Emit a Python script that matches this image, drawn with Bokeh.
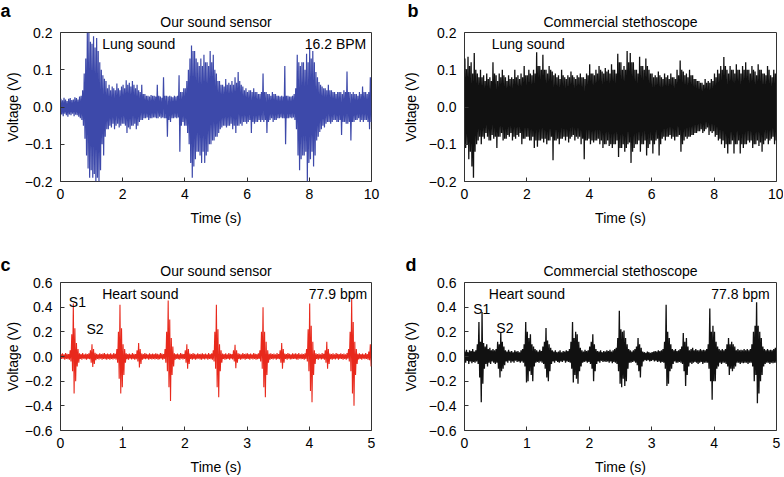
from bokeh.plotting import figure
from bokeh.layouts import row, column
from bokeh.models import Range1d, FixedTicker, CustomJSTickFormatter, Label, Title
from bokeh.embed import file_html
from bokeh.resources import INLINE

# ---------------- data (envelope per time bin) ----------------
# (a) our sensor, lung sound: 0.05 s bins, 0-10 s
lung_sensor_hi = [0.022, 0.018, 0.025, 0.02, 0.016, 0.022, 0.024, 0.019, 0.02, 0.026,
                  0.024, 0.02, 0.028, 0.03, 0.045, 0.09, 0.13, 0.2, 0.2, 0.175,
                  0.17, 0.19, 0.16, 0.185, 0.15, 0.12, 0.1, 0.085, 0.076, 0.07,
                  0.05, 0.06, 0.045, 0.055, 0.05, 0.045, 0.063, 0.05, 0.045, 0.055,
                  0.06, 0.05, 0.072, 0.06, 0.065, 0.055, 0.07, 0.06, 0.05, 0.06,
                  0.045, 0.04, 0.06, 0.035, 0.035, 0.03, 0.03, 0.028, 0.032, 0.03,
                  0.03, 0.028, 0.06, 0.03, 0.028, 0.025, 0.08, 0.03, 0.03, 0.028,
                  0.03, 0.028, 0.026, 0.03, 0.028, 0.03, 0.085, 0.04, 0.04, 0.05,
                  0.05, 0.07, 0.1, 0.13, 0.165, 0.15, 0.15, 0.13, 0.12, 0.11,
                  0.13, 0.11, 0.14, 0.12, 0.12, 0.11, 0.15, 0.12, 0.14, 0.1,
                  0.09, 0.07, 0.07, 0.06, 0.06, 0.055, 0.075, 0.06, 0.065, 0.06,
                  0.07, 0.06, 0.08, 0.065, 0.094, 0.07, 0.06, 0.055, 0.045, 0.05,
                  0.04, 0.045, 0.045, 0.04, 0.05, 0.04, 0.04, 0.035, 0.035, 0.04,
                  0.09, 0.04, 0.04, 0.035, 0.035, 0.03, 0.04, 0.035, 0.035, 0.03,
                  0.03, 0.028, 0.03, 0.028, 0.11, 0.03, 0.03, 0.028, 0.028, 0.03,
                  0.035, 0.05, 0.14, 0.12, 0.11, 0.12, 0.12, 0.1, 0.143, 0.12,
                  0.157, 0.13, 0.15, 0.12, 0.094, 0.08, 0.067, 0.06, 0.055, 0.05,
                  0.05, 0.045, 0.06, 0.045, 0.045, 0.04, 0.04, 0.035, 0.04, 0.04,
                  0.04, 0.035, 0.045, 0.04, 0.095, 0.04, 0.04, 0.035, 0.04, 0.035,
                  0.035, 0.03, 0.04, 0.035, 0.055, 0.04, 0.04, 0.035, 0.04, 0.08]
lung_sensor_lo = [-0.02, -0.025, -0.018, -0.022, -0.026, -0.02, -0.022, -0.018, -0.025, -0.021,
                  -0.022, -0.026, -0.03, -0.035, -0.05, -0.085, -0.13, -0.165, -0.19, -0.17,
                  -0.19, -0.18, -0.2, -0.19, -0.2, -0.17, -0.1, -0.13, -0.08, -0.06,
                  -0.06, -0.05, -0.055, -0.045, -0.06, -0.05, -0.045, -0.055, -0.05, -0.045,
                  -0.045, -0.05, -0.07, -0.055, -0.06, -0.05, -0.05, -0.045, -0.06, -0.05,
                  -0.04, -0.035, -0.035, -0.03, -0.03, -0.028, -0.035, -0.03, -0.03, -0.028,
                  -0.028, -0.03, -0.03, -0.026, -0.03, -0.028, -0.03, -0.03, -0.08, -0.035,
                  -0.04, -0.03, -0.03, -0.028, -0.03, -0.028, -0.12, -0.05, -0.04, -0.05,
                  -0.05, -0.07, -0.1, -0.15, -0.19, -0.16, -0.14, -0.12, -0.12, -0.13,
                  -0.15, -0.12, -0.15, -0.13, -0.12, -0.1, -0.1, -0.09, -0.09, -0.08,
                  -0.08, -0.07, -0.06, -0.055, -0.05, -0.05, -0.055, -0.05, -0.05, -0.045,
                  -0.06, -0.05, -0.07, -0.05, -0.05, -0.045, -0.05, -0.04, -0.04, -0.045,
                  -0.04, -0.035, -0.07, -0.04, -0.045, -0.04, -0.04, -0.035, -0.04, -0.035,
                  -0.04, -0.035, -0.07, -0.04, -0.035, -0.03, -0.04, -0.035, -0.035, -0.03,
                  -0.03, -0.028, -0.03, -0.03, -0.1, -0.03, -0.03, -0.028, -0.03, -0.028,
                  -0.035, -0.06, -0.13, -0.17, -0.14, -0.13, -0.13, -0.12, -0.2, -0.15,
                  -0.14, -0.12, -0.16, -0.13, -0.09, -0.08, -0.067, -0.06, -0.05, -0.055,
                  -0.045, -0.04, -0.04, -0.045, -0.04, -0.035, -0.035, -0.04, -0.04, -0.035,
                  -0.075, -0.04, -0.04, -0.045, -0.045, -0.04, -0.09, -0.04, -0.04, -0.035,
                  -0.035, -0.03, -0.04, -0.035, -0.04, -0.035, -0.035, -0.04, -0.06, -0.04]

# (b) commercial stethoscope, lung sound: 0.05 s bins, 0-10 s
lung_steth_hi = [0.13, 0.1, 0.135, 0.11, 0.12, 0.09, 0.145, 0.1, 0.09, 0.08,
                 0.1, 0.08, 0.085, 0.07, 0.09, 0.075, 0.08, 0.07, 0.12, 0.09,
                 0.085, 0.07, 0.09, 0.08, 0.1, 0.085, 0.08, 0.07, 0.085, 0.075,
                 0.08, 0.075, 0.1, 0.08, 0.085, 0.075, 0.09, 0.08, 0.11, 0.085,
                 0.085, 0.1, 0.09, 0.085, 0.1, 0.09, 0.147, 0.11, 0.11, 0.1,
                 0.14, 0.1, 0.1, 0.09, 0.11, 0.1, 0.095, 0.085, 0.09, 0.08,
                 0.085, 0.075, 0.1, 0.085, 0.08, 0.075, 0.085, 0.08, 0.095, 0.085,
                 0.08, 0.075, 0.085, 0.08, 0.09, 0.08, 0.08, 0.075, 0.09, 0.085,
                 0.115, 0.09, 0.09, 0.085, 0.1, 0.09, 0.11, 0.1, 0.095, 0.09,
                 0.105, 0.095, 0.1, 0.09, 0.115, 0.1, 0.1, 0.09, 0.143, 0.12,
                 0.12, 0.1, 0.11, 0.1, 0.15, 0.12, 0.145, 0.12, 0.12, 0.1,
                 0.1, 0.09, 0.135, 0.11, 0.11, 0.1, 0.13, 0.11, 0.1, 0.09,
                 0.09, 0.08, 0.085, 0.08, 0.095, 0.085, 0.08, 0.075, 0.09, 0.08,
                 0.085, 0.075, 0.09, 0.08, 0.08, 0.075, 0.1, 0.085, 0.125, 0.1,
                 0.095, 0.085, 0.09, 0.08, 0.1, 0.085, 0.085, 0.075, 0.075, 0.07,
                 0.07, 0.065, 0.065, 0.06, 0.075, 0.065, 0.07, 0.065, 0.075, 0.07,
                 0.09, 0.08, 0.1, 0.09, 0.11, 0.1, 0.134, 0.11, 0.1, 0.09,
                 0.11, 0.1, 0.1, 0.09, 0.115, 0.1, 0.1, 0.09, 0.11, 0.1,
                 0.12, 0.1, 0.1, 0.09, 0.11, 0.1, 0.095, 0.085, 0.115, 0.1,
                 0.1, 0.09, 0.09, 0.085, 0.11, 0.1, 0.085, 0.08, 0.1, 0.09]
lung_steth_lo = [-0.11, -0.1, -0.14, -0.12, -0.16, -0.19, -0.12, -0.1, -0.09, -0.08,
                 -0.1, -0.08, -0.085, -0.07, -0.08, -0.09, -0.09, -0.075, -0.085, -0.08,
                 -0.11, -0.08, -0.08, -0.07, -0.09, -0.085, -0.085, -0.075, -0.08, -0.07,
                 -0.09, -0.08, -0.085, -0.075, -0.08, -0.07, -0.1, -0.085, -0.085, -0.08,
                 -0.08, -0.09, -0.09, -0.08, -0.11, -0.09, -0.107, -0.09, -0.09, -0.085,
                 -0.095, -0.085, -0.1, -0.09, -0.09, -0.08, -0.143, -0.09, -0.09, -0.085,
                 -0.1, -0.085, -0.085, -0.08, -0.09, -0.08, -0.095, -0.085, -0.08, -0.075,
                 -0.09, -0.08, -0.085, -0.08, -0.1, -0.085, -0.14, -0.09, -0.09, -0.085,
                 -0.1, -0.09, -0.095, -0.09, -0.09, -0.085, -0.1, -0.09, -0.11, -0.1,
                 -0.1, -0.09, -0.105, -0.1, -0.11, -0.1, -0.1, -0.09, -0.134, -0.11,
                 -0.11, -0.1, -0.12, -0.11, -0.1, -0.095, -0.15, -0.12, -0.11, -0.1,
                 -0.1, -0.09, -0.12, -0.1, -0.1, -0.09, -0.13, -0.11, -0.1, -0.09,
                 -0.125, -0.1, -0.09, -0.085, -0.13, -0.1, -0.085, -0.08, -0.09, -0.08,
                 -0.08, -0.075, -0.085, -0.08, -0.09, -0.08, -0.08, -0.075, -0.12, -0.1,
                 -0.09, -0.08, -0.085, -0.08, -0.08, -0.075, -0.075, -0.07, -0.07, -0.065,
                 -0.065, -0.06, -0.07, -0.065, -0.06, -0.055, -0.075, -0.065, -0.07, -0.065,
                 -0.08, -0.075, -0.09, -0.085, -0.1, -0.09, -0.11, -0.1, -0.125, -0.1,
                 -0.1, -0.09, -0.125, -0.1, -0.1, -0.09, -0.125, -0.1, -0.11, -0.1,
                 -0.1, -0.09, -0.095, -0.09, -0.11, -0.1, -0.1, -0.09, -0.105, -0.095,
                 -0.12, -0.1, -0.09, -0.085, -0.1, -0.09, -0.085, -0.08, -0.1, -0.09]

# (c) our sensor, heart sound: 0.025 s bins, 0-5 s
heart_sensor_hi = [0.02, 0.025, 0.018, 0.028, 0.022, 0.02, 0.05, 0.18, 0.43, 0.23,
                   0.11, 0.06, 0.025, 0.02, 0.028, 0.018, 0.024, 0.02, 0.026, 0.05,
                   0.1, 0.06, 0.03, 0.022, 0.018, 0.026, 0.02, 0.024, 0.028, 0.02,
                   0.024, 0.02, 0.026, 0.018, 0.028, 0.022, 0.06, 0.2, 0.42, 0.23,
                   0.1, 0.06, 0.026, 0.02, 0.024, 0.018, 0.028, 0.022, 0.02, 0.05,
                   0.11, 0.06, 0.025, 0.02, 0.028, 0.022, 0.018, 0.026, 0.02, 0.024,
                   0.02, 0.026, 0.022, 0.018, 0.028, 0.024, 0.02, 0.06, 0.2, 0.455,
                   0.3, 0.15, 0.08, 0.026, 0.02, 0.024, 0.018, 0.028, 0.022, 0.02,
                   0.05, 0.1, 0.06, 0.024, 0.02, 0.028, 0.022, 0.018, 0.026, 0.02,
                   0.022, 0.026, 0.02, 0.024, 0.018, 0.028, 0.02, 0.025, 0.05, 0.2,
                   0.42, 0.22, 0.1, 0.05, 0.024, 0.02, 0.026, 0.018, 0.028, 0.022,
                   0.02, 0.05, 0.095, 0.05, 0.026, 0.022, 0.018, 0.028, 0.02, 0.024,
                   0.026, 0.02, 0.024, 0.018, 0.028, 0.022, 0.02, 0.025, 0.05, 0.2,
                   0.4, 0.2, 0.12, 0.05, 0.022, 0.026, 0.02, 0.024, 0.018, 0.028,
                   0.02, 0.05, 0.11, 0.06, 0.024, 0.02, 0.028, 0.022, 0.018, 0.026,
                   0.022, 0.026, 0.02, 0.028, 0.018, 0.024, 0.02, 0.026, 0.06, 0.22,
                   0.43, 0.25, 0.12, 0.05, 0.026, 0.02, 0.024, 0.018, 0.028, 0.022,
                   0.05, 0.12, 0.06, 0.024, 0.02, 0.026, 0.018, 0.028, 0.022, 0.02,
                   0.026, 0.02, 0.024, 0.018, 0.028, 0.06, 0.2, 0.47, 0.28, 0.12,
                   0.06, 0.022, 0.026, 0.02, 0.024, 0.018, 0.028, 0.02, 0.04, 0.1]
heart_sensor_lo = [-0.02, -0.018, -0.025, -0.02, -0.022, -0.026, -0.04, -0.12, -0.3, -0.2,
                   -0.08, -0.05, -0.02, -0.025, -0.018, -0.022, -0.026, -0.02, -0.022, -0.05,
                   -0.085, -0.06, -0.03, -0.02, -0.024, -0.018, -0.026, -0.02, -0.022, -0.025,
                   -0.02, -0.026, -0.02, -0.024, -0.018, -0.025, -0.05, -0.18, -0.3, -0.25,
                   -0.15, -0.05, -0.022, -0.026, -0.018, -0.024, -0.02, -0.026, -0.022, -0.04,
                   -0.09, -0.06, -0.026, -0.02, -0.022, -0.018, -0.025, -0.02, -0.024, -0.02,
                   -0.024, -0.02, -0.026, -0.022, -0.018, -0.025, -0.02, -0.05, -0.12, -0.25,
                   -0.36, -0.15, -0.08, -0.025, -0.02, -0.022, -0.026, -0.018, -0.024, -0.02,
                   -0.05, -0.1, -0.06, -0.02, -0.025, -0.02, -0.026, -0.022, -0.018, -0.024,
                   -0.026, -0.02, -0.024, -0.018, -0.025, -0.02, -0.022, -0.026, -0.04, -0.1,
                   -0.25, -0.33, -0.12, -0.05, -0.02, -0.026, -0.022, -0.02, -0.025, -0.018,
                   -0.024, -0.04, -0.095, -0.05, -0.02, -0.026, -0.022, -0.018, -0.025, -0.02,
                   -0.02, -0.025, -0.018, -0.024, -0.02, -0.026, -0.022, -0.02, -0.04, -0.1,
                   -0.25, -0.33, -0.15, -0.05, -0.025, -0.02, -0.024, -0.018, -0.026, -0.02,
                   -0.022, -0.05, -0.1, -0.05, -0.02, -0.026, -0.018, -0.024, -0.022, -0.02,
                   -0.02, -0.024, -0.026, -0.018, -0.022, -0.02, -0.025, -0.02, -0.04, -0.12,
                   -0.28, -0.37, -0.15, -0.06, -0.02, -0.025, -0.018, -0.024, -0.02, -0.026,
                   -0.05, -0.1, -0.06, -0.022, -0.026, -0.02, -0.024, -0.018, -0.025, -0.02,
                   -0.02, -0.025, -0.02, -0.026, -0.018, -0.04, -0.12, -0.3, -0.4, -0.15,
                   -0.06, -0.024, -0.02, -0.026, -0.018, -0.022, -0.02, -0.025, -0.03, -0.08]

# (d) commercial stethoscope, heart sound: 0.025 s bins, 0-5 s
heart_steth_hi = [0.04, 0.055, 0.035, 0.05, 0.045, 0.06, 0.04, 0.05, 0.1, 0.28,
                  0.12, 0.36, 0.11, 0.08, 0.1, 0.06, 0.07, 0.05, 0.06, 0.05,
                  0.06, 0.12, 0.1, 0.19, 0.12, 0.08, 0.05, 0.04, 0.055, 0.04,
                  0.045, 0.035, 0.05, 0.04, 0.045, 0.035, 0.05, 0.06, 0.1, 0.28,
                  0.2, 0.15, 0.18, 0.1, 0.08, 0.06, 0.05, 0.04, 0.055, 0.045,
                  0.08, 0.12, 0.23, 0.13, 0.1, 0.07, 0.05, 0.04, 0.05, 0.035,
                  0.04, 0.05, 0.035, 0.045, 0.04, 0.05, 0.045, 0.06, 0.12, 0.28,
                  0.15, 0.2, 0.18, 0.12, 0.07, 0.05, 0.04, 0.055, 0.045, 0.05,
                  0.08, 0.12, 0.18, 0.1, 0.06, 0.045, 0.04, 0.05, 0.035, 0.045,
                  0.04, 0.05, 0.045, 0.055, 0.04, 0.05, 0.06, 0.07, 0.15, 0.37,
                  0.22, 0.2, 0.21, 0.15, 0.1, 0.06, 0.05, 0.04, 0.05, 0.06,
                  0.08, 0.15, 0.1, 0.07, 0.04, 0.035, 0.03, 0.04, 0.035, 0.03,
                  0.035, 0.04, 0.045, 0.04, 0.05, 0.045, 0.05, 0.06, 0.12, 0.42,
                  0.2, 0.15, 0.1, 0.06, 0.05, 0.06, 0.045, 0.05, 0.06, 0.08,
                  0.19, 0.12, 0.15, 0.08, 0.05, 0.06, 0.07, 0.05, 0.06, 0.05,
                  0.05, 0.06, 0.05, 0.055, 0.05, 0.06, 0.1, 0.39, 0.2, 0.25,
                  0.2, 0.12, 0.08, 0.06, 0.05, 0.06, 0.05, 0.06, 0.1, 0.15,
                  0.1, 0.12, 0.1, 0.08, 0.05, 0.06, 0.05, 0.055, 0.05, 0.06,
                  0.05, 0.06, 0.05, 0.06, 0.1, 0.2, 0.25, 0.44, 0.25, 0.2,
                  0.15, 0.08, 0.06, 0.05, 0.06, 0.05, 0.055, 0.05, 0.06, 0.07]
heart_steth_lo = [-0.05, -0.035, -0.06, -0.04, -0.055, -0.045, -0.05, -0.04, -0.06, -0.17,
                  -0.37, -0.22, -0.1, -0.06, -0.08, -0.05, -0.06, -0.04, -0.05, -0.06,
                  -0.05, -0.1, -0.17, -0.12, -0.1, -0.07, -0.04, -0.05, -0.035, -0.05,
                  -0.04, -0.05, -0.035, -0.045, -0.04, -0.05, -0.04, -0.05, -0.08, -0.21,
                  -0.2, -0.12, -0.15, -0.2, -0.08, -0.05, -0.045, -0.05, -0.04, -0.05,
                  -0.06, -0.1, -0.17, -0.2, -0.12, -0.06, -0.04, -0.05, -0.035, -0.045,
                  -0.05, -0.04, -0.045, -0.035, -0.05, -0.04, -0.045, -0.05, -0.1, -0.21,
                  -0.15, -0.18, -0.22, -0.12, -0.08, -0.05, -0.045, -0.04, -0.05, -0.045,
                  -0.06, -0.1, -0.2, -0.12, -0.06, -0.04, -0.05, -0.035, -0.045, -0.04,
                  -0.045, -0.04, -0.05, -0.04, -0.055, -0.045, -0.05, -0.06, -0.12, -0.22,
                  -0.25, -0.18, -0.24, -0.2, -0.1, -0.05, -0.05, -0.045, -0.04, -0.05,
                  -0.07, -0.12, -0.17, -0.08, -0.04, -0.03, -0.035, -0.03, -0.04, -0.035,
                  -0.03, -0.04, -0.035, -0.045, -0.04, -0.05, -0.045, -0.05, -0.1, -0.24,
                  -0.22, -0.12, -0.1, -0.06, -0.04, -0.05, -0.05, -0.045, -0.05, -0.06,
                  -0.12, -0.24, -0.15, -0.08, -0.05, -0.06, -0.05, -0.045, -0.05, -0.06,
                  -0.05, -0.045, -0.06, -0.05, -0.05, -0.05, -0.1, -0.2, -0.35, -0.2,
                  -0.2, -0.1, -0.08, -0.05, -0.06, -0.05, -0.05, -0.06, -0.08, -0.15,
                  -0.1, -0.12, -0.1, -0.08, -0.05, -0.05, -0.06, -0.05, -0.055, -0.05,
                  -0.05, -0.06, -0.05, -0.05, -0.08, -0.2, -0.15, -0.38, -0.3, -0.2,
                  -0.15, -0.08, -0.06, -0.05, -0.05, -0.06, -0.05, -0.055, -0.05, -0.05]

lung_x_ticks = [0, 2, 4, 6, 8, 10]
lung_y_ticks = [-0.2, -0.1, 0.0, 0.1, 0.2]
heart_x_ticks = [0, 1, 2, 3, 4, 5]
heart_y_ticks = [-0.6, -0.4, -0.2, 0.0, 0.2, 0.4, 0.6]

FONT = "Liberation Sans"
BLUE = "#3d49aa"
RED = "#e8291c"
BLACK = "#111111"


def zigzag(hi, lo, dt):
    # each bin is traced as one up/down stroke between its envelope extremes
    xs, ys = [], []
    for i, (h, l) in enumerate(zip(hi, lo)):
        xs += [(i + 0.25) * dt, (i + 0.75) * dt]
        ys += [h, l]
    return xs, ys


def make_panel(letter, title, xmax, xticks, ymax, yticks, bl, fw, br, bt, fh, bb,
               title_standoff, letter_offset, letter_standoff,
               ylab_standoff, xlab_standoff):
    p = figure(width=bl + fw + br, height=bt + fh + bb,
               x_range=Range1d(0, xmax), y_range=Range1d(-ymax, ymax),
               output_backend="svg", toolbar_location=None,
               min_border_left=bl, min_border_right=br,
               min_border_top=bt, min_border_bottom=bb,
               title=letter, background_fill_color="white",
               border_fill_color="white")
    # outer title: panel letter
    p.title.text_font = FONT
    p.title.text_font_size = "18px"
    p.title.text_font_style = "bold"
    p.title.text_color = "black"
    p.title.align = "left"
    p.title.offset = letter_offset
    p.title.standoff = letter_standoff
    # inner title: panel caption
    cap = Title(text=title, align="center", text_font=FONT, text_font_size="14px",
                text_font_style="normal", text_color="black", standoff=title_standoff)
    p.add_layout(cap, "above")

    p.outline_line_color = "#333333"
    p.outline_line_width = 1
    p.xgrid.visible = False
    p.ygrid.visible = False
    p.xaxis.ticker = FixedTicker(ticks=xticks)
    p.yaxis.ticker = FixedTicker(ticks=yticks)
    p.yaxis.formatter = CustomJSTickFormatter(
        code="return (tick < -1e-9 ? '\\u2212' : '') + Math.abs(tick).toFixed(1);")
    p.xaxis.formatter = CustomJSTickFormatter(code="return tick.toFixed(0);")
    p.xaxis.axis_label = "Time (s)"
    p.yaxis.axis_label = "Voltage (V)"
    for ax in (p.xaxis, p.yaxis):
        ax.axis_line_color = None
        ax.major_tick_in = 4
        ax.major_tick_out = 0
        ax.major_tick_line_color = "#333333"
        ax.minor_tick_line_color = None
        ax.major_label_text_font = FONT
        ax.major_label_text_font_size = "14px"
        ax.major_label_text_color = "black"
        ax.axis_label_text_font = FONT
        ax.axis_label_text_font_size = "14px"
        ax.axis_label_text_font_style = "normal"
        ax.axis_label_text_color = "black"
    p.xaxis.major_label_standoff = 7
    p.xaxis.axis_label_standoff = xlab_standoff
    p.yaxis.major_label_standoff = 8
    p.yaxis.axis_label_standoff = ylab_standoff
    return p


def add_text(p, x, y, text, align="left"):
    p.add_layout(Label(x=x, y=y, text=text, text_font=FONT, text_font_size="14px",
                       text_align=align, text_baseline="middle", text_color="black"))


# ---------------- panel a ----------------
pa = make_panel("a", "Our sound sensor", 10, lung_x_ticks, 0.2, lung_y_ticks,
                60, 311, 19, 32, 149, 59, 5, -60, -23, 1, 8)
xs, ys = zigzag(lung_sensor_hi, lung_sensor_lo, 0.05)
pa.line(xs, ys, line_color=BLUE, line_width=1.2)
add_text(pa, 1.34, 0.17, "Lung sound")
add_text(pa, 9.83, 0.17, "16.2 BPM", align="right")

# ---------------- panel b ----------------
pb = make_panel("b", "Commercial stethoscope", 10, lung_x_ticks, 0.2, lung_y_ticks,
                74, 312, 7, 32, 149, 59, 5, -57, -23, 7, 8)
xs, ys = zigzag(lung_steth_hi, lung_steth_lo, 0.05)
pb.line(xs, ys, line_color=BLACK, line_width=1.3)
add_text(pb, 0.87, 0.17, "Lung sound")

# ---------------- panel c ----------------
pc = make_panel("c", "Our sound sensor", 5, heart_x_ticks, 0.6, heart_y_ticks,
                60, 311, 19, 42, 148, 47, 8, -60, -36, 1, 8)
xs, ys = zigzag(heart_sensor_hi, heart_sensor_lo, 0.025)
pc.line(xs, ys, line_color=RED, line_width=1.1)
add_text(pc, 0.67, 0.507, "Heart sound")
add_text(pc, 0.134, 0.445, "S1")
add_text(pc, 0.418, 0.227, "S2")
add_text(pc, 4.93, 0.51, "77.9 bpm", align="right")

# ---------------- panel d ----------------
pd_ = make_panel("d", "Commercial stethoscope", 5, heart_x_ticks, 0.6, heart_y_ticks,
                 74, 312, 7, 42, 148, 47, 8, -59, -36, 7, 8)
xs, ys = zigzag(heart_steth_hi, heart_steth_lo, 0.025)
pd_.line(xs, ys, line_color=BLACK, line_width=1.3)
add_text(pd_, 0.39, 0.51, "Heart sound")
add_text(pd_, 0.14, 0.387, "S1")
add_text(pd_, 0.51, 0.235, "S2")
add_text(pd_, 4.89, 0.51, "77.8 bpm", align="right")

layout = column(row(pa, pb, spacing=0), row(pc, pd_, spacing=0), spacing=0)

open("out.html", "w", encoding="utf-8").write(file_html(layout, INLINE))
